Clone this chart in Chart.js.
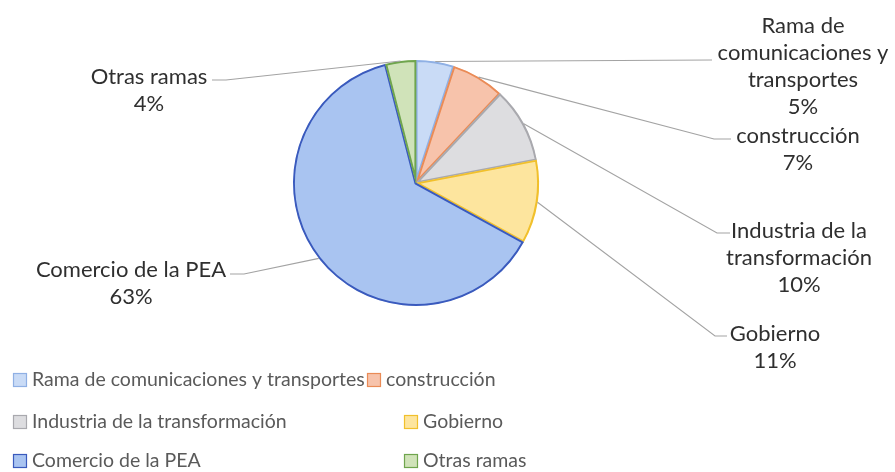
<!DOCTYPE html>
<html>
<head>
<meta charset="utf-8">
<script src="https://cdn.jsdelivr.net/npm/chart.js@4.4.1/dist/chart.umd.min.js"></script>
<style>
html,body{margin:0;padding:0;background:#fff;}
#wrap{position:relative;width:895px;height:472px;}
</style>
</head>
<body>
<div id="wrap"><canvas id="c"></canvas></div>
<script>
// ---- data ----
const categories = ['Rama de comunicaciones y transportes', 'construcción', 'Industria de la transformación', 'Gobierno', 'Comercio de la PEA', 'Otras ramas'];
const shares = [5, 7, 10, 11, 63, 4];
const labelLines = [['Rama de', 'comunicaciones y', 'transportes'], ['construcción'], ['Industria de la', 'transformación'], ['Gobierno'], ['Comercio de la PEA'], ['Otras ramas']];

// ---- style ----
const fills = ['#c9dbf6', '#f7c3ab', '#dddde0', '#fde59e', '#a9c4f1', '#d0e3b9'];
const borders = ['#8fb0e4', '#ea8b56', '#a9a9ae', '#f1c02c', '#3a5abd', '#6fa54d'];
const labelFont = '22px Lato';
const legendFont = '19.5px Lato';
const lineH = 27;
// label layout: text center x, first line y, leader bend point, leader end
const labelLayout = [
  {cx: 803, y: 26, bend: [712, 60], end: [712, 60]},
  {cx: 798, y: 136, bend: [714, 139], end: [731, 139]},
  {cx: 799, y: 231, bend: [717, 233], end: [730, 233]},
  {cx: 775, y: 334, bend: [715, 336], end: [727, 336]},
  {cx: 131, y: 270, bend: [244, 274], end: [230, 274]},
  {cx: 149, y: 77, bend: [226, 80], end: [212, 80]}
];
const legendLayout = [[13, 380], [367, 380], [13, 422], [404, 422], [13, 461], [404, 461]];

const labelsPlugin = {
  id: 'extLabels',
  afterDraw(chart) {
    const ctx = chart.ctx;
    const meta = chart.getDatasetMeta(0);
    const total = shares.reduce((a, b) => a + b, 0);
    ctx.save();
    meta.data.forEach((arc, i) => {
      const p = arc.getProps(['x', 'y', 'startAngle', 'endAngle', 'outerRadius'], true);
      const mid = (p.startAngle + p.endAngle) / 2;
      const ax = p.x + Math.cos(mid) * p.outerRadius;
      const ay = p.y + Math.sin(mid) * p.outerRadius;
      const L = labelLayout[i];
      ctx.strokeStyle = '#a3a3a3';
      ctx.lineWidth = 1.1;
      ctx.beginPath();
      ctx.moveTo(ax, ay);
      ctx.lineTo(L.bend[0], L.bend[1]);
      ctx.lineTo(L.end[0], L.end[1]);
      ctx.stroke();
      ctx.fillStyle = '#2f2f2f';
      ctx.font = labelFont;
      ctx.textAlign = 'center';
      ctx.textBaseline = 'middle';
      const lines = labelLines[i].concat([Math.round(shares[i] / total * 100) + '%']);
      lines.forEach((t, k) => ctx.fillText(t, L.cx, L.y + k * lineH));
    });
    // legend
    ctx.font = legendFont;
    ctx.textAlign = 'left';
    ctx.textBaseline = 'middle';
    categories.forEach((c, i) => {
      const [x, y] = legendLayout[i];
      ctx.fillStyle = fills[i];
      ctx.fillRect(x, y - 7, 14, 14);
      ctx.strokeStyle = borders[i];
      ctx.lineWidth = 1.2;
      ctx.strokeRect(x + 0.5, y - 6.5, 13, 13);
      ctx.fillStyle = '#5a5a5a';
      ctx.fillText(c, x + 19, y);
    });
    ctx.restore();
  }
};

function build() {
  new Chart(document.getElementById('c'), {
    type: 'pie',
    data: {
      labels: categories,
      datasets: [{
        data: shares,
        backgroundColor: fills,
        borderColor: borders,
        borderWidth: 1.6,
        borderAlign: 'inner'
      }]
    },
    options: {
      responsive: true,
      maintainAspectRatio: false,
      animation: false,
      layout: {padding: {top: 60, bottom: 166, left: 0, right: 63}},
      plugins: {legend: {display: false}, tooltip: {enabled: false}}
    },
    plugins: [labelsPlugin]
  });
}
if (document.fonts && document.fonts.load) {
  Promise.all([document.fonts.load(labelFont), document.fonts.load(legendFont)]).then(build, build);
} else { build(); }
</script>
</body>
</html>
